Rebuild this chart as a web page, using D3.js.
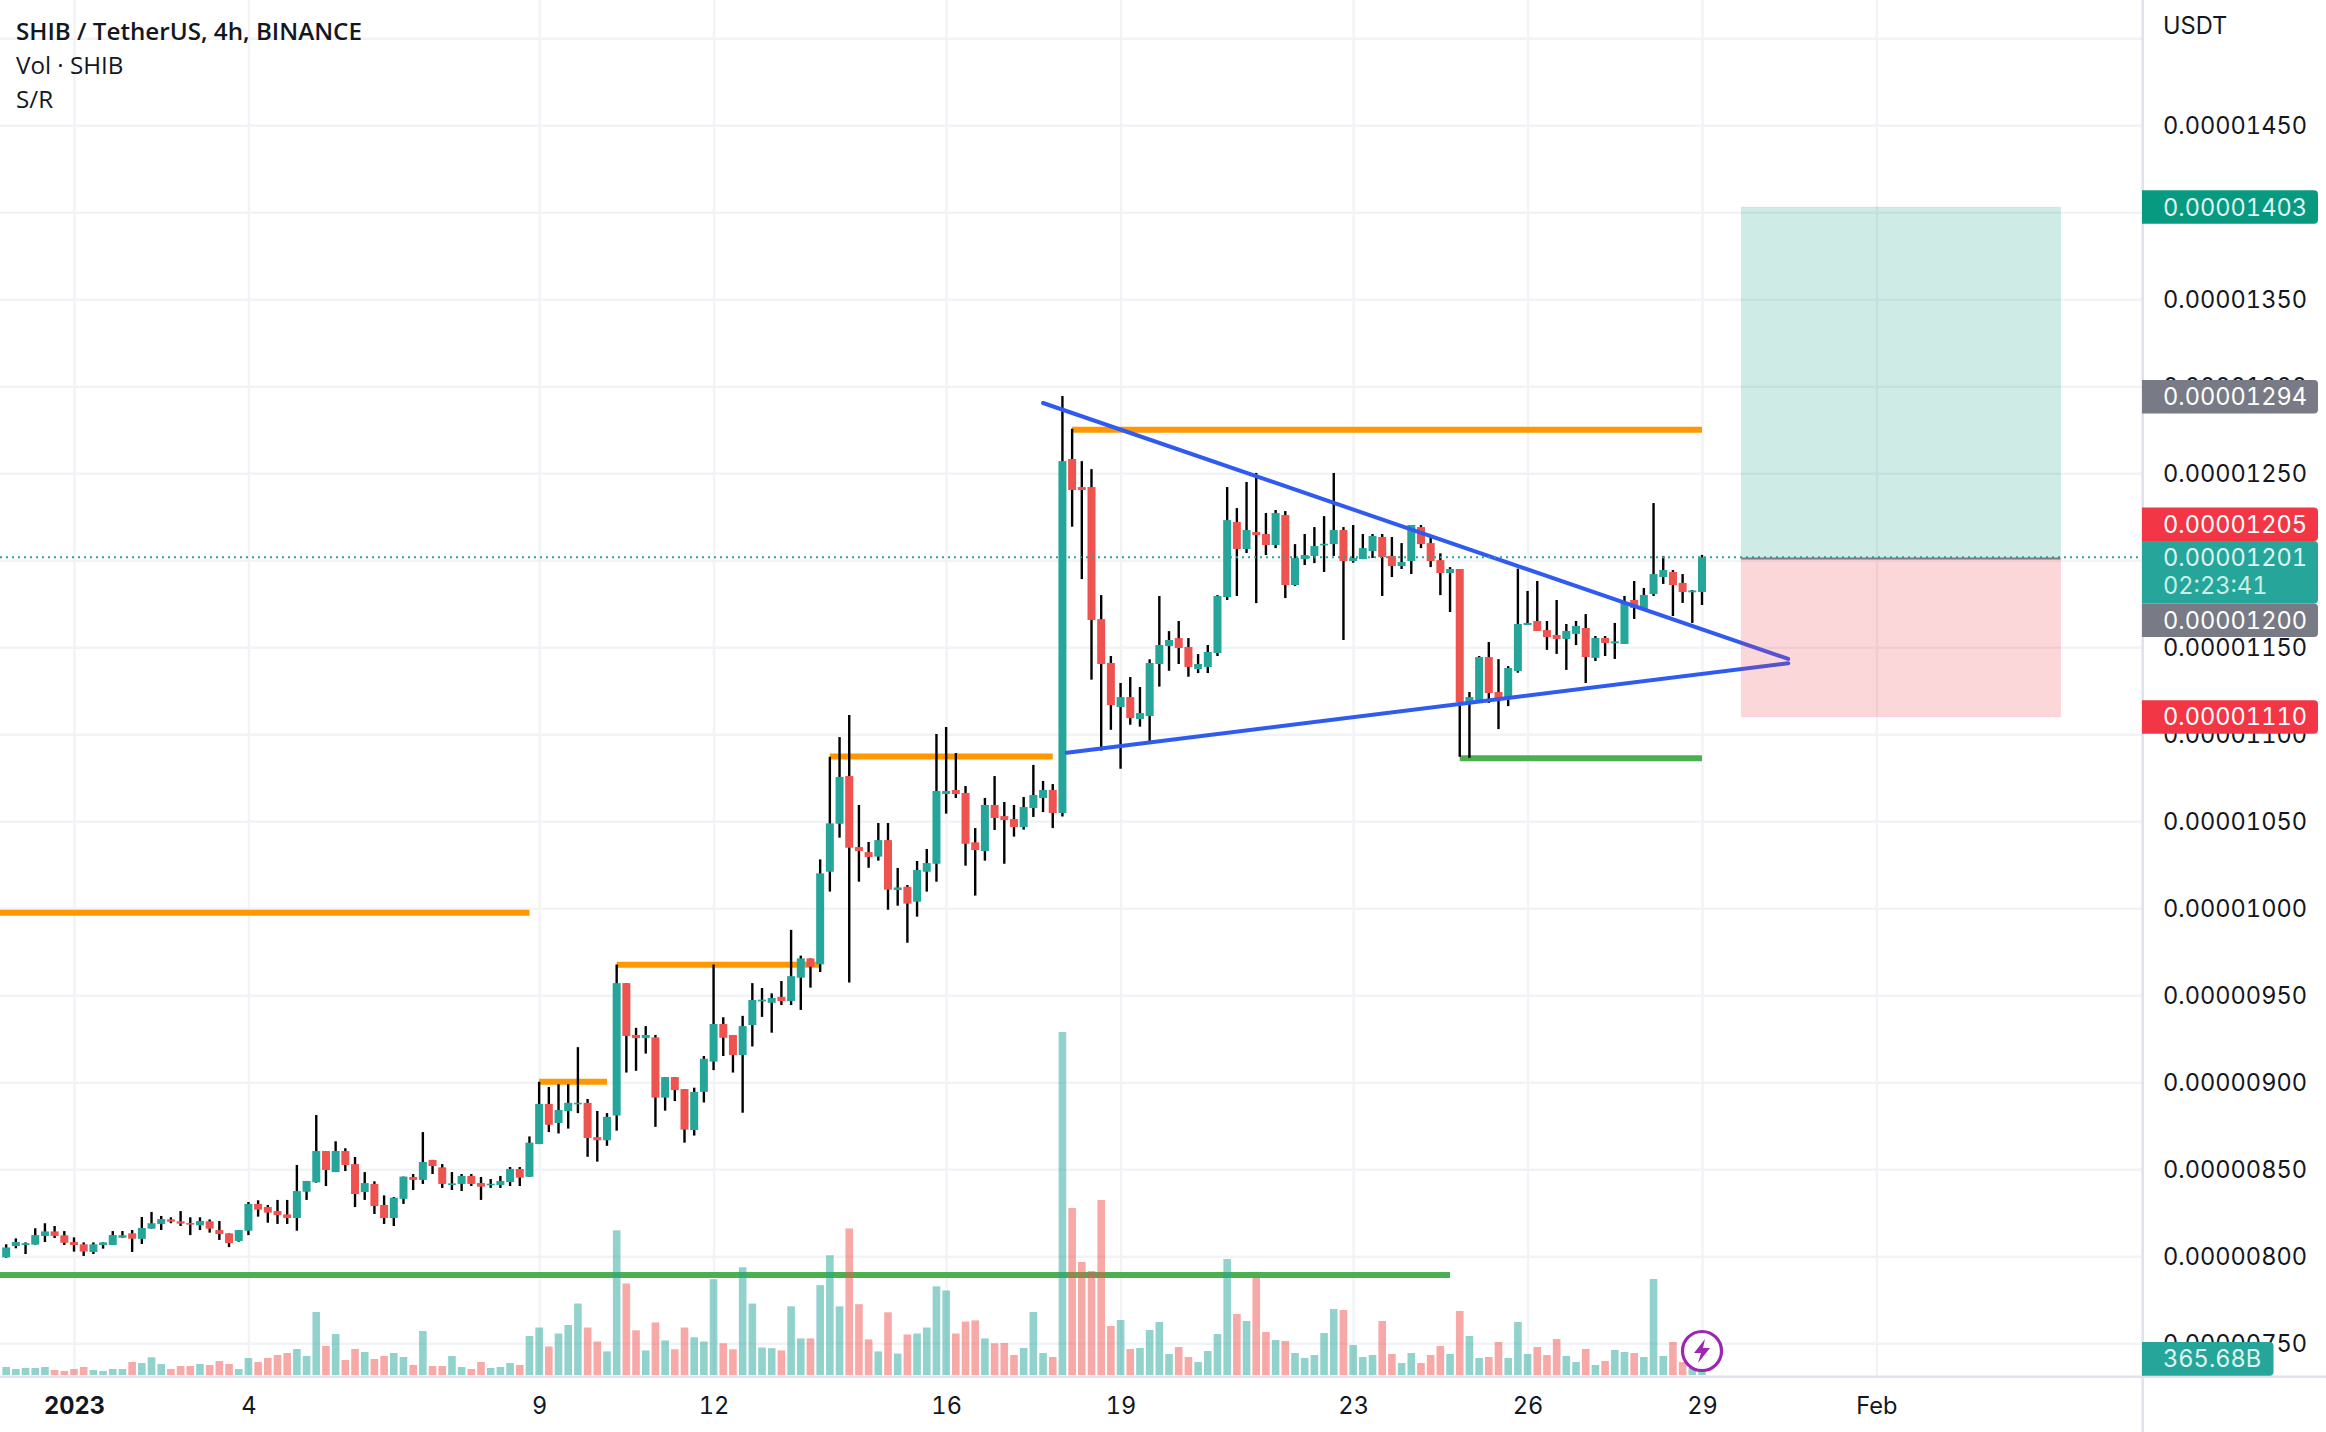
<!DOCTYPE html>
<html><head><meta charset="utf-8">
<script src="https://cdn.jsdelivr.net/npm/d3@7/dist/d3.min.js"></script>
<style>html,body{margin:0;padding:0;background:#fff;overflow:hidden}svg{display:block}
text{font-family:Inter,"Noto Sans",sans-serif;font-feature-settings:"tnum" 1}</style></head><body>
<svg id="c" width="2326" height="1432"></svg>
<script>
// prices in units of 1e-8 USDT; first candle is 7 bars (28h) before 1 Jan 2023 00:00 UTC, 4h bars
const opens=[799.4,805.9,806.5,806.7,811.7,814.3,812.1,808.2,806.9,802.5,806.5,806.5,810.7,813.2,810.0,815.9,818.6,821.2,820.1,819.1,817.8,820.1,815.1,813.2,808.8,814.7,830.1,828.3,826.0,824.1,822.0,837.1,842.5,860.5,848.4,860.5,853.0,836.9,841.6,829.5,822.0,833.0,845.6,843.9,855.4,851.1,841.0,841.6,846.2,842.1,841.0,841.0,842.7,850.2,
845.7,864.5,887.6,876.6,883.5,887.4,888.2,868.5,866.7,880.9,957.0,927.2,925.4,925.8,891.2,903.0,896.1,872.6,894.5,911.9,933.5,927.2,915.7,932.9,946.5,945.7,949.1,946.7,960.1,971.2,967.8,1021.0,1048.6,1076.0,1035.2,1032.3,1029.7,1039.2,1010.5,1012.4,1003.8,1021.0,1025.6,1065.7,1068.0,1066.3,1037.9,1032.9,1059.4,1053.0,1051.3,1046.7,1057.6,1063.4,1068.0,1054.8,
1258.2,1242.1,1242.1,1166.2,1141.0,1115.7,1121.4,1108.8,1110.5,1140.4,1150.7,1155.3,1150.2,1137.5,1138.7,1146.7,1178.9,1222.0,1206.5,1216.2,1215.1,1208.8,1226.0,1185.8,1200.7,1202.5,1208.6,1209.3,1217.4,1199.6,1200.7,1205.3,1213.4,1202.5,1196.7,1199.6,1219.1,1209.9,1200.1,1192.7,1195.0,1118.5,1119.7,1144.4,1124.3,1120.3,
1136.4,1162.8,1165.1,1159.9,1157.1,1154.8,1157.7,1161.1,1143.9,1155.4,1152.3,1151.9,1177.2,1171.4,1180.6,1190.4,1193.3,1187.0,1181.6,1181.8];
const closes=[805.1,808.2,807.5,812.2,814.3,811.7,807.8,806.5,802.7,806.9,808.0,812.2,812.1,810.1,816.3,819.0,821.4,819.9,818.8,818.2,820.3,815.9,812.8,807.6,815.1,830.1,826.8,825.1,823.7,822.0,837.5,843.3,860.5,849.6,860.5,852.5,835.8,842.1,828.9,822.0,833.7,845.8,843.9,854.2,851.9,841.6,841.9,846.2,841.6,840.0,841.7,843.3,850.2,845.2,
865.3,887.6,875.6,884.1,888.2,888.2,868.0,866.7,880.1,957.0,926.6,925.4,927.2,891.2,903.0,895.5,872.8,894.5,913.5,933.5,925.6,915.7,932.3,947.3,947.5,948.5,946.7,961.0,971.2,966.4,1020.1,1048.8,1075.5,1034.8,1032.9,1029.5,1039.2,1010.7,1012.0,1002.7,1022.0,1026.0,1067.4,1067.4,1065.7,1037.1,1033.5,1059.4,1051.9,1050.7,1046.7,1058.2,1065.1,1068.0,1054.8,1257.0,
1240.4,1240.4,1165.7,1140.4,1116.8,1121.4,1109.3,1112.2,1141.0,1151.3,1154.2,1149.6,1138.7,1140.4,1147.3,1179.5,1223.1,1206.5,1217.4,1214.5,1208.8,1227.2,1185.8,1201.3,1203.0,1208.2,1209.5,1217.4,1199.6,1201.3,1207.0,1214.0,1201.9,1196.7,1199.0,1220.3,1209.3,1199.6,1192.7,1195.0,1118.5,1121.4,1144.4,1123.7,1119.7,1138.1,
1163.4,1164.0,1159.4,1155.9,1154.8,1159.4,1162.3,1144.4,1155.4,1152.5,1153.4,1176.0,1172.6,1180.1,1192.1,1194.4,1185.8,1181.8,1182.7,1201.7];
const highs=[806.9,810.3,808.0,816.1,819.0,817.4,814.5,810.9,808.0,808.0,808.0,814.5,814.5,815.1,822.6,825.5,823.2,822.4,826.0,822.4,822.4,821.2,820.3,813.2,815.1,831.2,832.2,829.5,832.4,832.4,852.5,843.3,881.2,860.5,866.1,862.1,857.1,848.4,843.1,835.0,834.1,845.8,847.3,871.4,855.4,853.0,848.4,847.3,847.3,845.6,844.4,846.2,851.3,851.3,
868.9,900.3,897.3,898.9,898.9,920.2,890.4,883.5,882.3,967.7,957.0,931.3,932.3,927.2,903.0,903.0,896.1,896.9,915.1,967.7,937.4,927.2,938.2,957.0,954.2,951.1,958.2,987.6,972.8,971.2,1028.1,1087.1,1098.4,1111.1,1059.4,1038.1,1049.0,1049.0,1023.2,1013.4,1027.2,1034.1,1100.2,1104.2,1089.2,1070.3,1046.1,1063.4,1076.0,1061.1,1059.4,1064.0,1082.4,1073.2,1071.4,1294.4,
1275.6,1257.0,1252.4,1180.0,1145.0,1129.5,1132.9,1127.2,1143.1,1179.5,1159.3,1165.1,1155.3,1146.1,1151.3,1180.0,1242.1,1230.0,1245.0,1250.2,1227.2,1228.9,1228.3,1209.3,1215.1,1219.1,1225.4,1250.2,1219.1,1220.3,1215.1,1215.1,1215.1,1213.4,1209.9,1220.3,1220.3,1214.0,1204.0,1196.1,1195.0,1124.3,1145.0,1153.0,1143.2,1139.2,
1195.2,1182.4,1188.1,1165.1,1177.2,1163.4,1165.1,1169.1,1156.5,1156.5,1164.0,1179.5,1188.1,1184.1,1232.9,1202.5,1194.4,1192.1,1182.9,1203.1];
const lows=[799.2,804.6,801.3,806.7,808.2,810.5,806.5,802.7,800.2,801.3,804.4,806.5,810.7,802.5,807.1,815.9,815.1,819.0,817.4,812.2,815.1,813.6,809.4,805.3,808.4,812.2,822.8,819.3,818.6,818.6,814.7,832.4,842.3,840.4,848.4,849.0,828.3,832.4,824.3,818.6,817.4,830.1,838.1,841.6,847.3,839.3,838.1,837.5,840.4,832.4,839.3,839.3,840.4,840.4,
845.7,864.5,871.4,870.6,873.4,882.3,857.2,854.4,863.5,872.2,905.6,906.6,916.5,874.4,883.7,889.2,865.3,869.4,888.4,907.0,915.1,905.6,882.5,920.6,937.6,928.5,944.4,944.4,941.6,954.4,963.4,1009.6,1040.6,957.3,1015.3,1023.3,1027.4,999.2,1001.5,980.2,995.2,1009.6,1015.3,1054.4,1063.4,1024.5,1007.3,1027.4,1045.0,1025.6,1041.2,1045.2,1052.5,1055.3,1046.1,1052.7,
1219.3,1189.2,1131.4,1090.6,1102.6,1080.2,1105.5,1104.4,1095.7,1127.4,1136.5,1140.4,1133.1,1135.2,1135.2,1145.0,1177.2,1179.5,1204.2,1175.4,1203.0,1207.0,1178.3,1185.2,1197.3,1198.4,1193.3,1202.5,1154.2,1198.6,1200.7,1201.3,1179.5,1190.4,1195.0,1192.1,1207.0,1196.1,1180.0,1170.3,1087.1,1086.5,1119.1,1118.0,1103.0,1116.2,
1135.4,1162.8,1159.4,1148.5,1146.2,1137.0,1151.3,1129.5,1142.1,1145.0,1143.3,1151.9,1166.3,1171.4,1179.5,1186.4,1168.0,1175.5,1164.0,1174.3];
// volume in billions of SHIB
const volumes=[600,450,525,525,600,375,300,450,600,375,300,450,450,975,900,1330,825,450,675,675,825,750,1050,825,450,1275,975,1275,1500,1650,1950,1425,4725,2175,3075,1125,1950,1725,1200,1425,1650,1350,750,3300,675,675,1425,600,450,975,525,600,900,750,
2925,3560,2140,3110,3750,5360,3560,2510,1770,10850,6860,3350,1845,3940,2590,1930,3560,2830,2510,7185,2380,1930,8080,5360,2060,2010,1845,5150,2745,2745,6735,8980,5150,10990,5310,2670,1770,4700,1610,3040,3110,3560,6650,6340,3110,4010,4095,2745,2380,
2400,1500,2025,4725,1650,1350,25725,12525,8475,7800,13125,3675,4125,1950,2025,3375,3975,1575,2100,1350,975,1800,3075,8700,4575,4050,7350,3225,2625,2550,1650,1275,1500,3150,4950,4875,2250,1350,1500,4050,1575,900,1650,900,1500,2175,1575,4800,2925,1275,1350,2475,1275,3975,1575,2100,1500,2700,1425,975,1950,750,1050,1875,1725,1650,1350,7200,1425,2475,975,525,365.68];
const priceTicks=[750,800,850,900,950,1000,1050,1100,1150,1200,1250,1300,1350,1400,1450];
const gridPrices=[750,800,850,900,950,1000,1050,1100,1150,1200,1250,1300,1350,1400,1450,1500];
const dayTicks=[[1,"2023"],[4,"4"],[9,"9"],[12,"12"],[16,"16"],[19,"19"],[23,"23"],[26,"26"],[29,"29"],[32,"Feb"]];
// support / resistance segments: start bar, end bar, price (bar index relative to 1 Jan 00:00)
const orangeLevels=[[-9,47,997.5],[48,55,900.3],[56,77,967.5],[78,101,1087.3],[103,168,1275.1]];
const greenLevels=[[-9,142,789.3],[143,168,1086.2]];
// trend lines: bar index and price at both ends
const trendLines=[[100,1290.4,176.9,1143.3],[102.45,1089.4,176.9,1140.8]];
const position={startBar:172.05,endBar:205,entry:1201,target:1403,stop:1110};
const firstBar=-7, barHours=4;

const teal="#26a69a", red="#ef5350";
const W=2326,H=1432,plotR=2142,plotB=1376;
const bar0=Date.UTC(2023,0,1);
const timeOf=i=>new Date(bar0+i*barHours*3600e3);
const x=d3.scaleUtc().domain([new Date(Date.UTC(2023,0,1)),new Date(Date.UTC(2023,0,29))]).range([74,1702]);
const xi=i=>x(timeOf(i));
const y=d3.scaleLinear().domain([750,1450]).range([1343.3,125.3]);
const yVol=d3.scaleLinear().domain([0,25725]).range([1375,1032]);
const candles=opens.map((o,k)=>({i:k+firstBar,o,c:closes[k],h:highs[k],l:lows[k],v:volumes[k],up:closes[k]>=o}));

const svg=d3.select("#c");
const defs=svg.append("defs");
defs.append("clipPath").attr("id","plot").append("rect").attr("width",plotR).attr("height",plotB);
const plot=svg.append("g").attr("clip-path","url(#plot)");
const gridColor="#f2f3f6";
// grid
plot.append("g").call(d3.axisRight(y).tickValues(gridPrices).tickSize(plotR).tickFormat(""))
  .call(g=>g.select(".domain").remove()).call(g=>g.selectAll("line").attr("stroke",gridColor).attr("stroke-width",2.4));
const dayDate=d=>new Date(Date.UTC(2023,0,d));
plot.append("g").call(d3.axisBottom(x).tickValues(dayTicks.map(d=>dayDate(d[0]))).tickSize(plotB).tickFormat(""))
  .call(g=>g.select(".domain").remove()).call(g=>g.selectAll("line").attr("stroke",gridColor).attr("stroke-width",2.4));
// S/R
const lv=(data,col)=>plot.append("g").selectAll("line").data(data).join("line")
  .attr("x1",d=>xi(d[0])).attr("x2",d=>xi(d[1])).attr("y1",d=>y(d[2])).attr("y2",d=>y(d[2]))
  .attr("stroke",col).attr("stroke-width",6);
lv(orangeLevels,"#ff9800"); lv(greenLevels,"#4caf50");
// volume
const bw=7.6;
plot.append("g").selectAll("rect").data(candles).join("rect")
  .attr("x",d=>xi(d.i)-bw/2).attr("width",bw).attr("y",d=>yVol(d.v)).attr("height",d=>yVol(0)-yVol(d.v))
  .attr("fill",d=>d.up?teal:red).attr("fill-opacity",.5);
// wicks + bodies
plot.append("g").selectAll("line").data(candles).join("line")
  .attr("x1",d=>xi(d.i)).attr("x2",d=>xi(d.i)).attr("y1",d=>y(d.h)).attr("y2",d=>y(d.l))
  .attr("stroke","#000").attr("stroke-width",2.4);
plot.append("g").selectAll("rect").data(candles).join("rect")
  .attr("x",d=>xi(d.i)-4).attr("width",8).attr("y",d=>y(Math.max(d.o,d.c)))
  .attr("height",d=>Math.max(1.5,Math.abs(y(d.o)-y(d.c)))).attr("fill",d=>d.up?teal:red);
// trend lines
plot.append("g").selectAll("line").data(trendLines).join("line")
  .attr("x1",d=>xi(d[0])).attr("y1",d=>y(d[1])).attr("x2",d=>xi(d[2])).attr("y2",d=>y(d[3]))
  .attr("stroke","#2f5bf0").attr("stroke-width",4).attr("stroke-linecap","round");
// last price dotted
const last=candles[candles.length-1];
plot.append("line").attr("x1",0).attr("x2",plotR).attr("y1",y(last.c)).attr("y2",y(last.c))
  .attr("stroke",teal).attr("stroke-width",2).attr("stroke-dasharray","2 4");
// position box
const px0=xi(position.startBar),px1=xi(position.endBar);
plot.append("rect").attr("x",px0).attr("width",px1-px0).attr("y",y(position.target)).attr("height",y(position.entry)-y(position.target))
  .attr("fill","#089981").attr("fill-opacity",.2).attr("stroke","#089981").attr("stroke-opacity",.08);
plot.append("rect").attr("x",px0).attr("width",px1-px0).attr("y",y(position.entry)).attr("height",y(position.stop)-y(position.entry))
  .attr("fill","#f23645").attr("fill-opacity",.2).attr("stroke","#f23645").attr("stroke-opacity",.08);
plot.append("line").attr("x1",px0).attr("x2",px1).attr("y1",y(position.entry)).attr("y2",y(position.entry)).attr("stroke","#787b86").attr("stroke-width",2);
// bolt badge
const badge=plot.append("g").attr("transform",`translate(${xi(168)},1351)`);
badge.append("circle").attr("r",19.5).attr("fill","#fff").attr("stroke","#9c27b0").attr("stroke-width",3.2);
badge.append("path").attr("d","M3,-12 L-8,2 L-1,2 L-4,12 L8,-3 L1,-3 Z").attr("fill","#9c27b0");

// axis borders
const bc="#e0e3eb";
svg.append("line").attr("x1",0).attr("x2",W).attr("y1",1376.7).attr("y2",1376.7).attr("stroke",bc).attr("stroke-width",2.6);
svg.append("line").attr("x1",2142.7).attr("x2",2142.7).attr("y1",0).attr("y2",H).attr("stroke",bc).attr("stroke-width",2.6);

// price axis
const fs=23.6, ink="#131722", pale="#dff5f2";
svg.append("g").attr("transform","translate(2142,0)")
  .call(d3.axisRight(y).tickValues(priceTicks).tickSize(0).tickPadding(21).tickFormat(v=>(v*1e-8).toFixed(8)))
  .call(g=>g.select(".domain").remove())
  .call(g=>g.selectAll("text").attr("font-size",fs).attr("fill",ink).attr("font-family",'Inter,sans-serif').attr("dy","0.36em"));
svg.append("text").attr("x",2163).attr("y",26).attr("dy","0.36em").attr("font-size",fs).attr("fill",ink).text("USDT");
// time axis
svg.append("g").attr("transform",`translate(0,1376)`)
  .call(d3.axisBottom(x).tickValues(dayTicks.map(d=>dayDate(d[0]))).tickSize(0).tickPadding(0).tickFormat((d,k)=>dayTicks[k][1]))
  .call(g=>g.select(".domain").remove())
  .call(g=>g.selectAll("text").attr("font-size",fs).attr("fill",ink).attr("font-family",'Inter,sans-serif').attr("y",0).attr("dy",0)
     .attr("transform","translate(0,38)").attr("font-weight",(d,k)=>k===0?700:400));

// price labels
function box(yTop,h,w,col,lines){
  const g=svg.append("g");
  g.append("path").attr("d",`M2142,${yTop}H${2142+w-4}a4,4 0 0 1 4,4V${yTop+h-4}a4,4 0 0 1 -4,4H2142Z`).attr("fill",col);
  lines.forEach(l=>g.append("text").attr("x",2163).attr("y",yTop+l[1]).attr("dy","0.36em").attr("font-size",fs).attr("fill",l[2]||"#fff").text(l[0]));
}
const fmt=v=>(v*1e-8).toFixed(8);
const lh=33.5;
box(y(1403)-lh/2,lh,176,"#089981",[[fmt(1403),lh/2,pale]]);
box(y(1294)-lh/2,lh,176,"#787b86",[[fmt(1294),lh/2]]);
box(y(1110)-lh/2,lh,176,"#f23645",[[fmt(1110),lh/2]]);
box(541,62.5,176,teal,[[fmt(1201),17,pale],["02:23:41",45,"#c9efe9"]]);
box(541-lh,lh,176,"#f23645",[[fmt(1205),lh/2]]);
box(603.5,lh,176,"#787b86",[[fmt(1200),lh/2]]);
box(1342,33.7,131.5,teal,[["365.68B",17,pale]]);

// legend
const lg=svg.append("g").attr("fill",ink);
lg.append("text").attr("x",16).attr("y",40).attr("font-size",24.2).attr("font-weight",600).text("SHIB / TetherUS, 4h, BINANCE").style("font-family",'"Open Sans"');
lg.append("text").attr("x",16).attr("y",74).attr("font-size",24.2).text("Vol · SHIB").style("font-family",'"Open Sans"');
lg.append("text").attr("x",16).attr("y",108).attr("font-size",24.2).text("S/R").style("font-family",'"Open Sans"');
</script></body></html>
